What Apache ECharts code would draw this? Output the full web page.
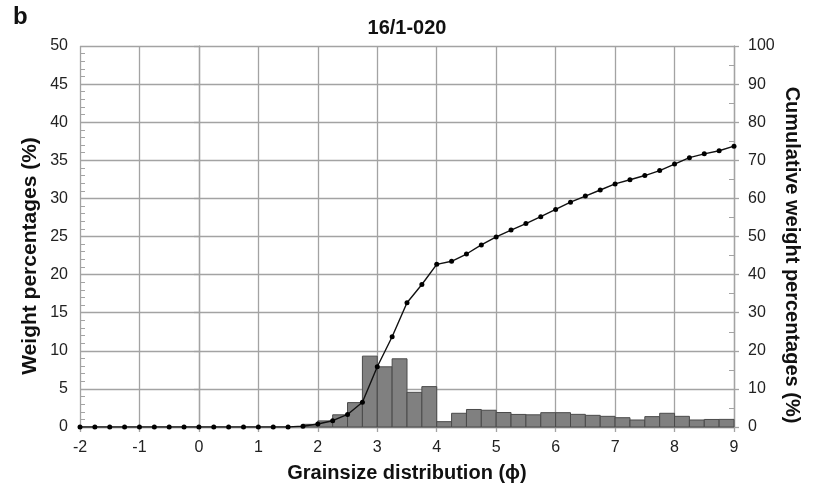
<!DOCTYPE html>
<html><head><meta charset="utf-8">
<script src="https://cdn.jsdelivr.net/npm/echarts@6/dist/echarts.min.js"></script>
<style>html,body{margin:0;padding:0;background:#fff}#c{width:814px;height:488px}</style>
</head><body><div id="c"></div>
<script>
// x positions of cumulative points (phi)
const phi = [-2,-1.75,-1.5,-1.25,-1,-0.75,-0.5,-0.25,0,0.25,0.5,0.75,1,1.25,1.5,
  1.75,2,2.25,2.5,2.75,3,3.25,3.5,3.75,4,4.25,4.5,4.75,5,5.25,5.5,5.75,6,6.25,6.5,6.75,7,7.25,7.5,7.75,8,8.25,8.5,8.75,9];
// cumulative weight percentages (%)
const cumulative = [0,0,0,0,0,0,0,0,0,0,0,0,0,0,0,
  0.2,0.8,1.65,3.3,6.5,15.8,23.7,32.6,37.4,42.7,43.5,45.4,47.8,49.9,51.7,53.4,55.2,57.1,59.0,60.6,62.2,63.8,64.9,66.0,67.3,69.0,70.7,71.7,72.5,73.7];
// histogram bins: lower edge (phi) and weight percentage (%)
const binStart = [1.75,2,2.25,2.5,2.75,3,3.25,3.5,3.75,4,4.25,4.5,4.75,5,5.25,5.5,5.75,6,6.25,6.5,6.75,7,7.25,7.5,7.75,8,8.25,8.5,8.75];
const weight = [0.35,0.8,1.6,3.2,9.3,7.9,8.95,4.55,5.3,0.7,1.8,2.3,2.2,1.9,1.65,1.6,1.88,1.88,1.66,1.53,1.4,1.22,0.92,1.36,1.8,1.4,0.92,0.99,1.0];
const binWidth = 0.25;

const FONT = 'Liberation Sans, Arial, sans-serif';
const gridColor = '#a3a3a3';
const labelStyle = {fontFamily: FONT, fontSize: 16, color: '#222'};
const nameStyle = {fontFamily: FONT, fontSize: 20, fontWeight: 'bold', color: '#111'};

const chart = echarts.init(document.getElementById('c'), null, {renderer: 'canvas'});
chart.setOption({
  animation: false,
  backgroundColor: '#fff',
  title: {
    text: '16/1-020', left: 'center', top: 13,
    textStyle: {fontFamily: FONT, fontSize: 20, fontWeight: 'bold', color: '#111'}
  },
  graphic: [{
    type: 'text', left: 13, top: 5,
    style: {text: 'b', fontFamily: FONT, fontSize: 24, fontWeight: 'bold', fill: '#111'}
  }, {
    type: 'text', x: 30, y: 256, rotation: Math.PI / 2,
    style: {text: 'Weight percentages (%)', fontFamily: FONT, fontSize: 21, fontWeight: 'bold',
      fill: '#111', textAlign: 'center', textVerticalAlign: 'middle'}
  }, {
    type: 'text', x: 792, y: 255, rotation: -Math.PI / 2,
    style: {text: 'Cumulative weight percentages (%)', fontFamily: FONT, fontSize: 20, fontWeight: 'bold',
      fill: '#111', textAlign: 'center', textVerticalAlign: 'middle'}
  }],
  grid: {left: 80, right: 80, top: 46, bottom: 61, containLabel: false, outerBoundsMode: 'none'},
  xAxis: [{
    type: 'value', min: -2, max: 9, interval: 1,
    name: 'Grainsize distribution (\u03D5)', nameLocation: 'middle', nameGap: 36,
    nameTextStyle: nameStyle, nameMoveOverlap: false,
    axisLine: {show: true, onZero: false, lineStyle: {color: gridColor, width: 1.3}},
    axisTick: {show: true, length: 5, lineStyle: {color: gridColor, width: 1.3}},
    axisLabel: Object.assign({margin: 13}, labelStyle),
    splitLine: {show: true, lineStyle: {color: gridColor, width: 1.3}}
  }],
  yAxis: [{
    type: 'value', position: 'left', min: 0, max: 50, interval: 5,
    axisLine: {show: true, lineStyle: {color: gridColor, width: 1.3}},
    axisTick: {show: true, length: 5, lineStyle: {color: gridColor, width: 1.3}},
    axisLabel: Object.assign({margin: 12}, labelStyle),
    splitLine: {show: true, lineStyle: {color: gridColor, width: 1.3}}
  }, {
    type: 'value', position: 'right', min: 0, max: 100, interval: 10,
    axisLine: {show: true, lineStyle: {color: gridColor, width: 1.3}},
    axisTick: {show: true, length: 5, lineStyle: {color: gridColor, width: 1.3}},
    axisLabel: Object.assign({margin: 14}, labelStyle),
    splitLine: {show: false}
  }, {
    type: 'value', position: 'left', min: 0, max: 50, interval: 1,
    axisLine: {show: false},
    axisTick: {show: true, inside: true, length: 5, lineStyle: {color: gridColor, width: 1}},
    axisLabel: {show: false}, splitLine: {show: false}
  }, {
    type: 'value', position: 'right', min: 0, max: 100, interval: 5,
    axisLine: {show: false},
    axisTick: {show: true, inside: true, length: 5, lineStyle: {color: gridColor, width: 1}},
    axisLabel: {show: false}, splitLine: {show: false}
  }],
  series: [{
    type: 'custom', xAxisIndex: 0, yAxisIndex: 0, z: 3,
    data: binStart.map((s, i) => [s, s + binWidth, weight[i]]),
    encode: {x: [0, 1], y: 2},
    renderItem: function (params, api) {
      const p0 = api.coord([api.value(0), api.value(2)]);
      const p1 = api.coord([api.value(1), 0]);
      return {
        type: 'rect',
        shape: {x: p0[0], y: p0[1], width: p1[0] - p0[0], height: p1[1] - p0[1]},
        style: {fill: '#808080', stroke: '#4a4a4a', lineWidth: 1}
      };
    }
  }, {
    type: 'line', xAxisIndex: 0, yAxisIndex: 1, z: 5,
    data: phi.map((x, i) => [x, cumulative[i]]),
    symbol: 'circle', symbolSize: 5, showSymbol: true,
    lineStyle: {color: '#111', width: 1.4},
    itemStyle: {color: '#000', borderWidth: 0}
  }]
});
</script></body></html>
